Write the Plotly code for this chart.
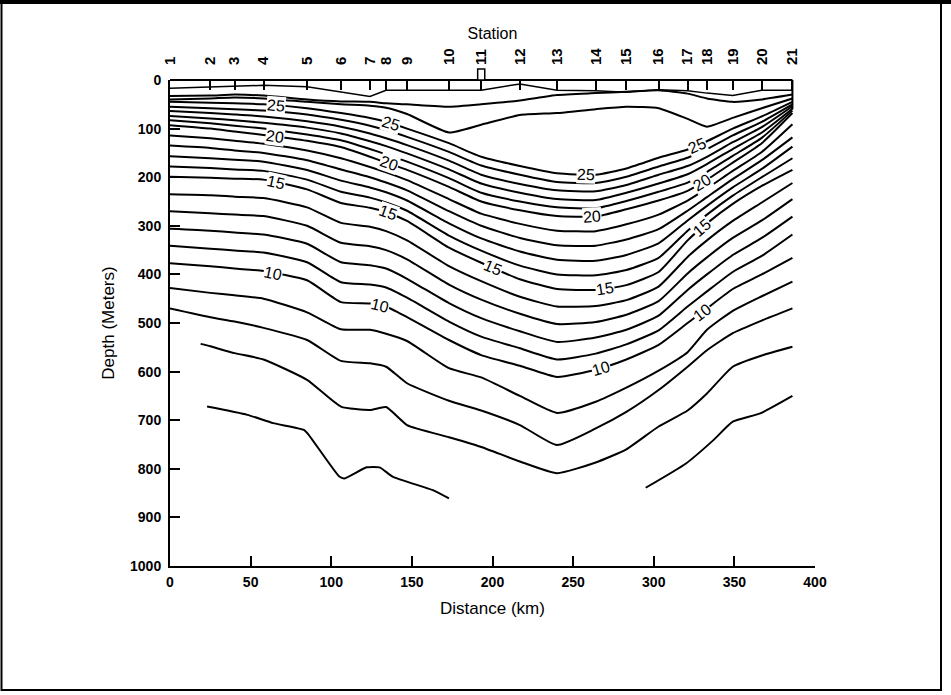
import numpy as np
import plotly.graph_objects as go

# ---------------- data ----------------
station_km = [0, 25, 40, 58, 85, 106, 124, 134, 147, 173, 193, 217, 240, 264, 283, 303, 321, 333, 349, 367, 386]
station_names = [str(i) for i in range(1, 22)]

# isotherm depths (m) at each station
iso_27 = [33, 32, 30, 32, 40, 44, 45, 48, 50, 55, 50, 42, 31, 27, 24, 21, 28, 38, 45, 40, 30]
iso_26 = [40, 38, 36, 38, 45, 50, 53, 57, 70, 108, 92, 72, 68, 60, 55, 58, 80, 96, 78, 58, 38]
iso_25 = [45, 47, 48, 50, 58, 68, 78, 86, 100, 130, 158, 177, 192, 195, 182, 160, 143, 126, 100, 75, 45]
iso_24 = [55, 58, 60, 63, 71, 82, 94, 103, 117, 148, 176, 195, 210, 212, 199, 178, 160, 142, 114, 86, 50]
iso_23 = [64, 68, 71, 75, 85, 96, 110, 120, 134, 166, 195, 214, 227, 229, 216, 195, 177, 158, 128, 97, 54]
iso_22 = [74, 79, 83, 88, 98, 110, 126, 136, 151, 184, 213, 232, 245, 247, 232, 213, 194, 173, 142, 108, 59]
iso_21 = [83, 89, 94, 100, 112, 124, 142, 153, 168, 202, 232, 250, 262, 264, 249, 230, 211, 189, 156, 119, 63]
iso_20 = [93, 100, 106, 113, 125, 138, 158, 170, 185, 220, 250, 268, 280, 281, 266, 248, 228, 205, 170, 130, 68]
iso_19 = [114, 120, 125, 131, 145, 161, 179, 190, 206, 245, 275, 296, 310, 311, 297, 277, 248, 223, 187, 148, 91]
iso_18 = [135, 140, 145, 150, 165, 184, 200, 211, 227, 270, 300, 325, 340, 341, 328, 307, 269, 241, 204, 165, 118]
iso_17 = [157, 161, 164, 168, 185, 207, 221, 231, 248, 295, 326, 353, 370, 372, 360, 336, 289, 259, 221, 183, 137]
iso_16 = [178, 181, 184, 187, 205, 230, 242, 252, 269, 320, 351, 382, 400, 402, 391, 366, 310, 277, 238, 200, 161]
iso_15 = [199, 201, 203, 205, 225, 253, 263, 272, 290, 345, 376, 410, 430, 432, 422, 395, 330, 295, 255, 218, 185]
iso_14 = [235, 237, 240, 243, 262, 294, 302, 311, 330, 383, 414, 446, 466, 465, 453, 425, 364, 330, 290, 252, 212]
iso_13 = [270, 274, 277, 280, 300, 335, 342, 350, 369, 421, 452, 481, 502, 498, 483, 455, 398, 365, 325, 289, 245]
iso_12 = [306, 310, 314, 318, 337, 375, 381, 388, 409, 459, 490, 517, 539, 530, 514, 485, 432, 400, 360, 325, 281]
iso_11 = [341, 347, 351, 355, 375, 416, 421, 427, 448, 497, 528, 552, 575, 563, 544, 515, 466, 435, 395, 362, 318]
iso_10 = [377, 383, 388, 393, 412, 457, 460, 466, 488, 535, 566, 588, 611, 596, 575, 545, 500, 470, 430, 400, 366]
iso_9 = [428, 438, 443, 450, 478, 513, 514, 522, 537, 593, 612, 650, 685, 662, 633, 598, 560, 514, 475, 445, 415]
iso_8 = [470, 488, 497, 510, 535, 578, 583, 590, 624, 660, 680, 710, 751, 717, 683, 638, 590, 556, 521, 495, 470]
iso_7_km = [19, 25, 40, 58, 85, 106, 124, 134, 147, 173, 193, 217, 240, 264, 283, 303, 321, 333, 349, 367, 386]
iso_7 = [543, 548, 562, 575, 617, 672, 679, 673, 710, 735, 755, 785, 809, 787, 760, 713, 680, 645, 590, 567, 549]
iso_6a_km = [23, 48, 64, 83, 86, 105, 108, 122, 130, 138, 163, 173]
iso_6a = [672, 689, 706, 720, 730, 816, 820, 797, 797, 816, 844, 861]
iso_6b_km = [295, 320, 337, 349, 366, 386]
iso_6b = [839, 789, 741, 703, 686, 650]

surface_layer = [17, 14, 12, 11, 14, 25, 34, 21, 21, 21, 21, 8, 21, 22, 25, 20, 22, 27, 32, 21, 21]

# contour labels: (temperature, distance km)
label_temps = [25, 25, 25, 25, 20, 20, 20, 20, 15, 15, 15, 15, 15, 10, 10, 10, 10]
label_km = [66, 137, 258, 327, 65, 136, 262, 330, 66, 135, 200, 270, 330, 64, 130, 267, 330]

x_ticks = [0, 50, 100, 150, 200, 250, 300, 350, 400]
y_ticks = [0, 100, 200, 300, 400, 500, 600, 700, 800, 900, 1000]

# ---------------- figure ----------------
W, H = 951, 695
ML, MR, MT, MB = 170, 136, 80, 129
PW, PH = W - ML - MR, H - MT - MB
px_km = PW / 400.0
px_m = PH / 1000.0

fig = go.Figure()
line_style = dict(color="black", width=2, shape="spline", smoothing=0.5)

iso_lines = {
    27: iso_27, 26: iso_26, 25: iso_25, 24: iso_24, 23: iso_23, 22: iso_22, 21: iso_21,
    20: iso_20, 19: iso_19, 18: iso_18, 17: iso_17, 16: iso_16, 15: iso_15, 14: iso_14,
    13: iso_13, 12: iso_12, 11: iso_11, 10: iso_10, 9: iso_9, 8: iso_8,
}
for t, d in iso_lines.items():
    fig.add_trace(go.Scatter(x=station_km, y=d, mode="lines", line=line_style,
                             hoverinfo="skip", showlegend=False))
for xs, ys in [(iso_7_km, iso_7), (iso_6a_km, iso_6a), (iso_6b_km, iso_6b)]:
    fig.add_trace(go.Scatter(x=xs, y=ys, mode="lines", line=line_style,
                             hoverinfo="skip", showlegend=False))
fig.add_trace(go.Scatter(x=station_km, y=surface_layer, mode="lines",
                         line=dict(color="black", width=1.5), hoverinfo="skip", showlegend=False))

# top station axis needs a trace on x2
fig.add_trace(go.Scatter(x=[0, 400], y=[None, None], xaxis="x2", mode="lines",
                         hoverinfo="skip", showlegend=False))

# inline contour labels
annotations = []
for t, km in zip(label_temps, label_km):
    d = iso_lines[t]
    y = float(np.interp(km, station_km, d))
    y1 = float(np.interp(km - 6, station_km, d))
    y2 = float(np.interp(km + 6, station_km, d))
    ang = np.degrees(np.arctan2((y2 - y1) * px_m, 12 * px_km))
    annotations.append(dict(x=km, y=y, xref="x", yref="y", text=str(t), showarrow=False,
                            textangle=float(ang), bgcolor="white", borderpad=0,
                            font=dict(family="Liberation Sans, Arial", size=16, color="black")))

# frame of the page
shapes = [
    dict(type="rect", xref="paper", yref="paper",
         x0=(1.5 - ML) / PW, x1=(941 - ML) / PW, y0=(H - MB - 690) / PH, y1=(H - MB - 2) / PH,
         line=dict(color="black", width=2)),
    dict(type="line", xref="paper", yref="paper",
         x0=(0 - ML) / PW, x1=(951 - ML) / PW, y0=(H - MB - 2) / PH, y1=(H - MB - 2) / PH,
         line=dict(color="black", width=4)),
    # top line of the section and its right-hand end
    dict(type="line", xref="x", yref="paper", x0=0, x1=station_km[-1], y0=1, y1=1,
         line=dict(color="black", width=2)),
    dict(type="line", xref="x", yref="y", x0=station_km[-1], x1=station_km[-1], y0=0, y1=60,
         line=dict(color="black", width=2)),
    # small marker box at station 11
    dict(type="rect", xref="x", yref="paper", x0=station_km[10] - 2.2, x1=station_km[10] + 2.2,
         y0=1, y1=1 + 11 / PH, line=dict(color="black", width=1.5), fillcolor="white"),
]

tickfont = dict(family="Liberation Sans, Arial", size=14, color="black", weight="bold")
stationfont = dict(family="Liberation Sans, Arial", size=15, color="black", weight="bold")
titlefont = dict(family="Liberation Sans, Arial", size=16, color="black")
axtitlefont = dict(family="Liberation Sans, Arial", size=17, color="black")

fig.update_layout(
    width=W, height=H, margin=dict(l=ML, r=MR, t=MT, b=MB, autoexpand=False),
    paper_bgcolor="white", plot_bgcolor="white",
    annotations=annotations, shapes=shapes,
    xaxis=dict(range=[0, 400], tickvals=x_ticks, ticks="inside", ticklen=10, tickwidth=2,
               tickcolor="black", showline=True, linewidth=2, linecolor="black",
               showgrid=False, zeroline=False, tickfont=tickfont, ticklabelstandoff=2,
               title=dict(text="Distance (km)", font=axtitlefont, standoff=13)),
    xaxis2=dict(range=[0, 400], overlaying="x", side="top", tickvals=station_km,
                ticktext=station_names, tickangle=-90, ticks="inside", ticklen=10,
                tickwidth=1.5, tickcolor="black", showline=False, showgrid=False,
                zeroline=False, tickfont=stationfont, ticklabelstandoff=14,
                title=dict(text="Station", font=titlefont, standoff=4)),
    yaxis=dict(range=[1000, 0], tickvals=y_ticks, ticks="inside", ticklen=10, tickwidth=2,
               tickcolor="black", showline=True, linewidth=2, linecolor="black",
               showgrid=False, zeroline=False, tickfont=tickfont, ticklabelstandoff=4,
               title=dict(text="Depth (Meters)", font=axtitlefont, standoff=11)),
    font=dict(family="Liberation Sans, Arial", color="black"),
)

fig.write_html("out.html", config={"displayModeBar": False},
               post_script="document.body.style.margin='0px';")
